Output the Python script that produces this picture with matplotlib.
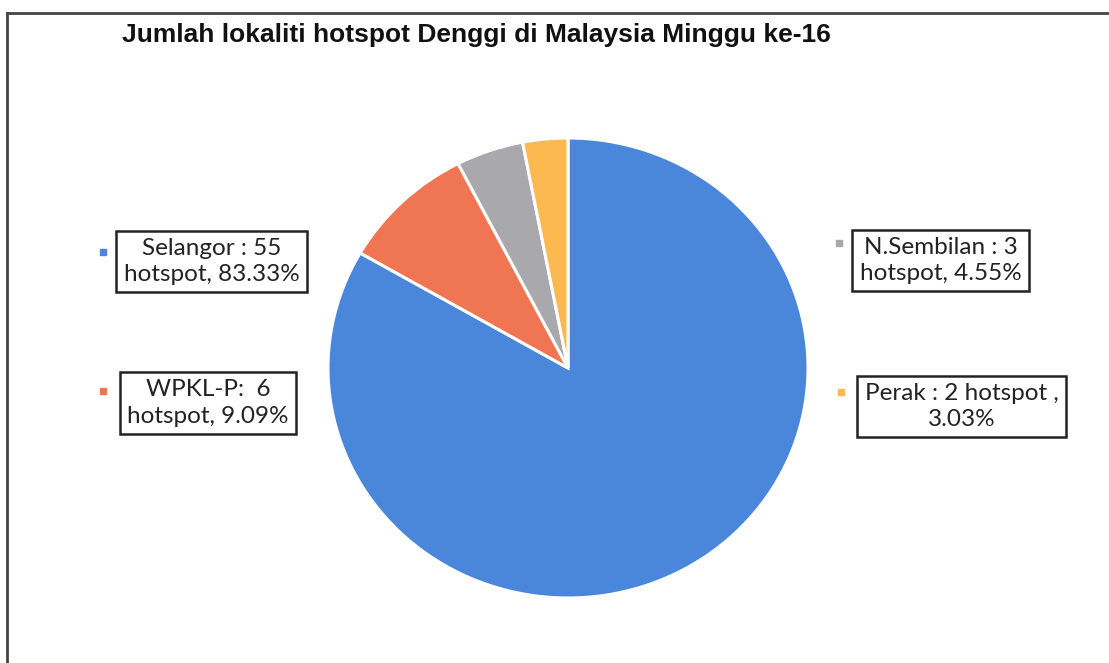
import matplotlib
matplotlib.use("Agg")
import matplotlib.pyplot as plt
from matplotlib.lines import Line2D

title = "Jumlah lokaliti hotspot Denggi di Malaysia Minggu ke-16"
categories = ["Selangor", "WPKL-P", "N.Sembilan", "Perak"]
values = [55, 6, 3, 2]
label_texts = ["Selangor : 55\nhotspot, 83.33%",
               "WPKL-P:  6\nhotspot, 9.09%",
               "N.Sembilan : 3\nhotspot, 4.55%",
               "Perak : 2 hotspot ,\n3.03%"]
colors = ["#4A86D9", "#F07553", "#A9A8AD", "#FBB950"]

W, H = 1109, 663
fig = plt.figure(figsize=(W / 100, H / 100), dpi=100)
fig.patch.set_facecolor("white")

def fx(x):
    return x / W

def fy(y):
    return 1 - y / H

# pie axes: centre (568,368), rx 240, ry 230
ax = fig.add_axes([fx(328), fy(598), 480 / W, 460 / H])
ax.pie(values, colors=colors, startangle=90, counterclock=False,
       wedgeprops=dict(edgecolor="white", linewidth=2.2))
ax.set_aspect("auto")
ax.set_xlim(-1, 1)
ax.set_ylim(-1, 1)
ax.axis("off")

# frame lines
fig.add_artist(Line2D([fx(7), 1.0], [fy(13), fy(13)], color="#444444", lw=2.0,
                      transform=fig.transFigure))
fig.add_artist(Line2D([fx(7), fx(7)], [fy(13), 0.0], color="#444444", lw=2.0,
                      transform=fig.transFigure))

fig.text(fx(122), fy(35), title, fontsize=19, fontweight="bold",
         family="Liberation Sans", ha="left", va="center", color="#111111")

# label boxes: centre positions and legend marker positions
box_centers = [(211.5, 261.5), (208, 403), (940.5, 260.5), (961.5, 406.5)]
marker_pos = [(103, 252), (103, 391), (839, 243), (841, 392)]
for txt, (cx, cy), (mx, my), col in zip(label_texts, box_centers, marker_pos, colors):
    fig.text(fx(cx), fy(cy), txt, fontsize=17.5, family="Lato", ha="center",
             va="center", multialignment="center", color="#222222",
             linespacing=1.3,
             bbox=dict(boxstyle="square,pad=0.3", facecolor="white",
                       edgecolor="#222222", linewidth=1.8))
    fig.add_artist(Line2D([fx(mx)], [fy(my)], marker="s", markersize=5,
                          color=col, linestyle="none", transform=fig.transFigure))

fig.savefig("out.png", dpi=100, facecolor="white")
